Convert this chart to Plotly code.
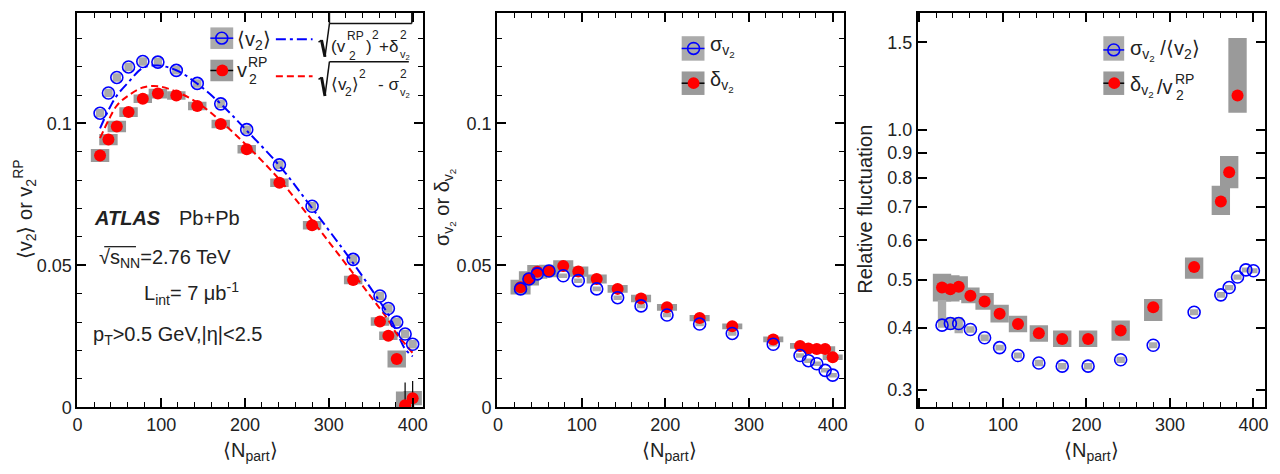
import numpy as np
import plotly.graph_objects as go

# ---------------- data ----------------
npart = [27, 37, 47, 61, 78, 96, 118, 143, 171, 202, 241, 280, 329, 361, 371, 381, 391, 400]

v2_mean = [0.1036, 0.1107, 0.1162, 0.1199, 0.1218, 0.1216, 0.1187, 0.1141, 0.1069, 0.0978,
           0.0854, 0.0708, 0.0521, 0.0392, 0.0348, 0.0300, 0.0258, 0.0222]
v2_rp = [0.0887, 0.0943, 0.0989, 0.1040, 0.1087, 0.1105, 0.1098, 0.1061, 0.0998, 0.0909,
         0.0791, 0.0641, 0.0448, 0.0302, 0.0252, 0.0170, 0.0007, 0.0032]
v2_rp_stat = [0, 0, 0, 0, 0, 0, 0, 0, 0, 0, 0, 0, 0, 0, 0, 0, 0.008, 0.006]
v2_mean_sys = [0.0015] * 18
v2_rp_sys = [0.0023, 0.0020, 0.0020, 0.0017, 0.0015, 0.0017, 0.0015, 0.0015, 0.0015, 0.0015,
             0.0015, 0.0015, 0.0015, 0.0015, 0.0015, 0.0030, 0.0048, 0.0025]

sigma_v2 = [0.0417, 0.0452, 0.0470, 0.0480, 0.0463, 0.0446, 0.0417, 0.0386, 0.0357, 0.0325,
            0.0293, 0.0260, 0.0222, 0.0182, 0.0164, 0.0153, 0.0130, 0.0113]
delta_v2 = [0.0423, 0.0454, 0.0477, 0.0480, 0.0498, 0.0478, 0.0452, 0.0417, 0.0383, 0.0352,
            0.0314, 0.0285, 0.0239, 0.0216, 0.0207, 0.0205, 0.0205, 0.0176]
sigma_sys = [0.0008] * 18
delta_sys = [0.0026, 0.0025, 0.0024, 0.0022, 0.0020, 0.0018, 0.0016, 0.0014, 0.0013, 0.0012,
             0.0011, 0.0010, 0.0010, 0.0010, 0.0010, 0.0010, 0.0010, 0.0010]

ratio_sigma = [0.405, 0.408, 0.408, 0.397, 0.382, 0.365, 0.352, 0.340, 0.335, 0.335,
               0.345, 0.369, 0.430, 0.466, 0.482, 0.506, 0.523, 0.521]
ratio_sigma_lo = [0.400, 0.396, 0.390, 0.391, 0.376, 0.360, 0.347, 0.335, 0.330, 0.330,
                  0.340, 0.364, 0.424, 0.460, 0.476, 0.500, 0.517, 0.515]
ratio_sigma_hi = [0.455, 0.420, 0.420, 0.403, 0.388, 0.370, 0.357, 0.345, 0.340, 0.340,
                  0.350, 0.374, 0.436, 0.472, 0.488, 0.512, 0.529, 0.527]

npart_ratio_delta = npart[:16]
ratio_delta = [0.482, 0.478, 0.484, 0.464, 0.452, 0.427, 0.407, 0.390, 0.380, 0.380,
               0.395, 0.440, 0.530, 0.718, 0.822, 1.173]
ratio_delta_lo = [0.452, 0.452, 0.455, 0.448, 0.435, 0.410, 0.392, 0.375, 0.366, 0.366,
                  0.377, 0.413, 0.502, 0.674, 0.763, 1.083]
ratio_delta_hi = [0.514, 0.510, 0.508, 0.482, 0.470, 0.445, 0.423, 0.405, 0.395, 0.395,
                  0.414, 0.457, 0.554, 0.772, 0.886, 1.530]

bessel_gauss_limit = 0.523  # sqrt(4/pi - 1)

# ---------------- style ----------------
W, H = 1280, 474
FONT = "Liberation Sans, Arial, sans-serif"
BLUE = "#0000ff"
RED = "#ff0000"
GRAY_B = "#ababab"
GRAY_R = "#9a9a9a"


def px(x):
    return x / W


def py(y):
    return 1 - y / H


fig = go.Figure()


def boxes(x, lo, hi, halfw, color, xa, ya):
    lo = np.asarray(lo, float)
    hi = np.asarray(hi, float)
    fig.add_trace(go.Bar(x=x, y=hi - lo, base=lo, width=2 * halfw, marker_color=color,
                         marker_line_width=0, xaxis=xa, yaxis=ya, showlegend=False,
                         hoverinfo="skip"))


def open_circles(x, y, xa, ya):
    fig.add_trace(go.Scatter(x=x, y=y, mode="markers", xaxis=xa, yaxis=ya, showlegend=False,
                             marker=dict(symbol="circle-open", size=12, color=BLUE,
                                         line=dict(width=1.6, color=BLUE))))


def red_dots(x, y, xa, ya, err=None):
    kw = {}
    if err is not None:
        kw["error_y"] = dict(type="data", array=err, color="black", thickness=1.2, width=0)
    fig.add_trace(go.Scatter(x=x, y=y, mode="markers", xaxis=xa, yaxis=ya, showlegend=False,
                             marker=dict(symbol="circle", size=12, color=RED), **kw))


v2m = np.array(v2_mean)
v2r = np.array(v2_rp)
sg = np.array(sigma_v2)
dl = np.array(delta_v2)

# ---- panel 1 ----
boxes(npart, v2m - np.array(v2_mean_sys), v2m + np.array(v2_mean_sys), 5, GRAY_B, "x", "y")
boxes(npart, v2r - np.array(v2_rp_sys), v2r + np.array(v2_rp_sys), 11, GRAY_R, "x", "y")
fig.add_trace(go.Scatter(x=npart, y=np.sqrt(v2r ** 2 + dl ** 2), mode="lines", xaxis="x", yaxis="y",
                         line=dict(color=BLUE, width=2, dash="10px,4px,3px,4px", shape="spline"),
                         showlegend=False))
fig.add_trace(go.Scatter(x=npart, y=np.sqrt(v2m ** 2 - sg ** 2), mode="lines", xaxis="x", yaxis="y",
                         line=dict(color=RED, width=2, dash="7px,4px", shape="spline"),
                         showlegend=False))
open_circles(npart, v2_mean, "x", "y")
red_dots(npart, v2_rp, "x", "y", err=v2_rp_stat)

# ---- panel 2 ----
boxes(npart, dl - np.array(delta_sys), dl + np.array(delta_sys), 12, GRAY_R, "x2", "y2")
boxes(npart, sg - np.array(sigma_sys), sg + np.array(sigma_sys), 5, GRAY_B, "x2", "y2")
red_dots(npart, delta_v2, "x2", "y2")
open_circles(npart, sigma_v2, "x2", "y2")

# ---- panel 3 ----
boxes(npart_ratio_delta, ratio_delta_lo, ratio_delta_hi, 11, GRAY_R, "x3", "y3")
boxes(npart, ratio_sigma_lo, ratio_sigma_hi, 5, GRAY_B, "x3", "y3")
red_dots(npart_ratio_delta, ratio_delta, "x3", "y3")
open_circles(npart, ratio_sigma, "x3", "y3")

# ---------------- axes ----------------
yd = [py(416), py(13)]
tickfont = dict(family=FONT, size=18, color="#222")
common = dict(showline=True, linecolor="black", linewidth=2, mirror="allticks", ticks="inside",
              ticklen=9, tickwidth=1.5, tickcolor="black", showgrid=False, zeroline=False,
              tickfont=tickfont)
xminor = dict(dtick=20, ticks="inside", ticklen=5, tickwidth=1.2, tickcolor="black", showgrid=False)
yminor = dict(dtick=0.01, ticks="inside", ticklen=5, tickwidth=1.2, tickcolor="black", showgrid=False)

fig.update_layout(
    xaxis=dict(domain=[px(73), px(421)], range=[0, 412], dtick=100, tick0=0, minor=xminor,
               anchor="y", **common),
    yaxis=dict(domain=yd, range=[0, 0.139], dtick=0.05, tick0=0, minor=yminor, anchor="x", **common),
    xaxis2=dict(domain=[px(496), px(846)], range=[-1, 414], dtick=100, tick0=0, minor=xminor,
                anchor="y2", **common),
    yaxis2=dict(domain=yd, range=[0, 0.139], dtick=0.05, tick0=0, minor=yminor, anchor="x2", **common),
    xaxis3=dict(domain=[px(920), px(1270)], range=[-2, 414], dtick=100, tick0=0, minor=xminor,
                anchor="y3", **common),
    yaxis3=dict(domain=yd, type="log", range=[np.log10(0.277), np.log10(1.72)],
                tickvals=[0.3, 0.4, 0.5, 0.6, 0.7, 0.8, 0.9, 1.0, 1.5],
                ticktext=["0.3", "0.4", "0.5", "0.6", "0.7", "0.8", "0.9", "1.0", "1.5"],
                anchor="x3", **common),
    barmode="overlay",
    width=W, height=H, margin=dict(l=0, r=0, t=0, b=0),
    paper_bgcolor="white", plot_bgcolor="white", showlegend=False,
    font=dict(family=FONT, size=18, color="#222"),
)

shapes = []
annotations = []

# dotted reference line in panel 3 (log axis: shape coords are log10)
shapes.append(dict(type="line", xref="x3 domain", yref="y3", x0=0, x1=1,
                   y0=np.log10(bessel_gauss_limit), y1=np.log10(bessel_gauss_limit),
                   line=dict(color="#444", width=1.8, dash="2px,4px")))


def text(x, y, s, size=20, anchor="left", angle=0, **kw):
    annotations.append(dict(x=px(x), y=py(y), xref="paper", yref="paper", text=s, showarrow=False,
                            xanchor=anchor, yanchor="middle", textangle=angle,
                            font=dict(family=FONT, size=size, color="#222"), **kw))


def leg_box(x0, x1, y0, y1, color):
    shapes.append(dict(type="rect", xref="paper", yref="paper", x0=px(x0), x1=px(x1),
                       y0=py(y1), y1=py(y0), fillcolor=color, line_width=0))


def leg_line(x0, x1, y, color, width=1.5, dash="solid"):
    shapes.append(dict(type="line", xref="paper", yref="paper", x0=px(x0), x1=px(x1),
                       y0=py(y), y1=py(y), line=dict(color=color, width=width, dash=dash)))


def leg_circle(cx, cy, r, filled):
    shapes.append(dict(type="circle", xref="paper", yref="paper", x0=px(cx - r), x1=px(cx + r),
                       y0=py(cy + r), y1=py(cy - r),
                       fillcolor=RED if filled else "rgba(0,0,0,0)",
                       line=dict(color=RED if filled else BLUE, width=0 if filled else 1.6)))


def seg(x0, y0, x1, y1, width=1.5):
    shapes.append(dict(type="line", xref="paper", yref="paper", x0=px(x0), x1=px(x1),
                       y0=py(y0), y1=py(y1), line=dict(color="#111", width=width)))


# ---- legend panel 1 ----
leg_box(207, 230, 28, 50, GRAY_B)
leg_line(207, 230, 39, BLUE)
leg_circle(218.5, 39, 6, False)
text(232, 41, "⟨v<sub>2</sub>⟩")
leg_box(207, 230, 61, 83, GRAY_R)
leg_line(207, 230, 72, "black")
leg_circle(219, 72, 6, True)
text(232, 72, "v")
text(243, 63, "RP", size=14)
text(244, 81, "2", size=14)
leg_line(273, 310, 40, BLUE, width=2, dash="10px,4px,3px,4px")
leg_line(273, 310, 78, RED, width=2, dash="7px,4px")
# radical 1
seg(316, 43, 319, 41)
seg(319, 41, 322.5, 58, width=3)
seg(322.5, 58, 327, 24)
seg(327, 24, 410, 24)
seg(327, 24, 327, 13)
seg(410, 24, 410, 13)
text(327, 47, "(v", size=17)
text(343, 37, "RP", size=12)
text(345, 57, "2", size=12)
text(362, 47, ")", size=17)
text(368, 36, "2", size=12)
text(375, 47, "+δ", size=17)
text(396, 36, "2", size=12)
text(396, 56, "v<sub>2</sub>", size=11)
# radical 2
seg(316, 81, 319, 79)
seg(319, 79, 322.5, 98, width=3)
seg(322.5, 98, 327, 63)
seg(327, 63, 407, 63)
text(327, 86, "⟨v", size=17)
text(341, 94, "2", size=12)
text(348, 86, "⟩", size=17)
text(355, 76, "2", size=12)
text(374, 86, "- σ", size=17)
text(396, 76, "2", size=12)
text(396, 95, "v<sub>2</sub>", size=11)

# ---- panel 1 labels ----
text(88, 223, "<b><i>ATLAS</i></b>")
text(173, 223, "Pb+Pb")
text(93, 264, "√s<sub>NN</sub>=2.76 TeV")
seg(100, 252, 132, 252, width=1.2)
text(138, 300, "L<sub>int</sub>= 7 μb<sup>-1</sup>")
text(87, 343, "p<sub>T</sub>&gt;0.5 GeV,|η|&lt;2.5")

# ---- legend panel 2 ----
leg_box(682, 705, 37, 62, GRAY_B)
leg_line(682, 705, 49.5, BLUE)
leg_circle(694, 49.5, 6, False)
text(709, 47, "σ<sub>v<sub>2</sub></sub>")
leg_box(682, 705, 73, 97, GRAY_R)
leg_line(682, 705, 85, "black")
leg_circle(694, 85, 6, True)
text(709, 83, "δ<sub>v<sub>2</sub></sub>")

# ---- legend panel 3 ----
leg_box(1107, 1128, 37, 62, GRAY_B)
leg_line(1107, 1128, 51, BLUE)
leg_circle(1117.5, 51, 6, False)
text(1132, 52, "σ<sub>v<sub>2</sub></sub> /⟨v<sub>2</sub>⟩")
leg_box(1107, 1128, 73, 97, GRAY_R)
leg_line(1107, 1128, 85, "black")
leg_circle(1118, 85, 6, True)
text(1132, 88, "δ<sub>v<sub>2</sub></sub>")
text(1159, 89, "/v")
text(1177, 81, "RP", size=14)
text(1178, 97, "2", size=14)

# ---- axis titles ----
text(20, 214, "⟨v<sub>2</sub>⟩ or v<sub>2</sub><sup>RP</sup>", anchor="center", angle=-90)
text(443, 212, "σ<sub>v<sub>2</sub></sub> or δ<sub>v<sub>2</sub></sub>", anchor="center", angle=-90)
text(867, 214, "Relative fluctuation", anchor="center", angle=-90)
for cx in (247, 670, 1095):
    text(cx, 461, "⟨N<sub>part</sub>⟩", anchor="center")

fig.update_layout(shapes=shapes, annotations=annotations)
fig.write_html("out.html",
               post_script="document.body.style.margin='0px';document.body.style.padding='0px';"
                           "document.documentElement.style.overflow='hidden';")
